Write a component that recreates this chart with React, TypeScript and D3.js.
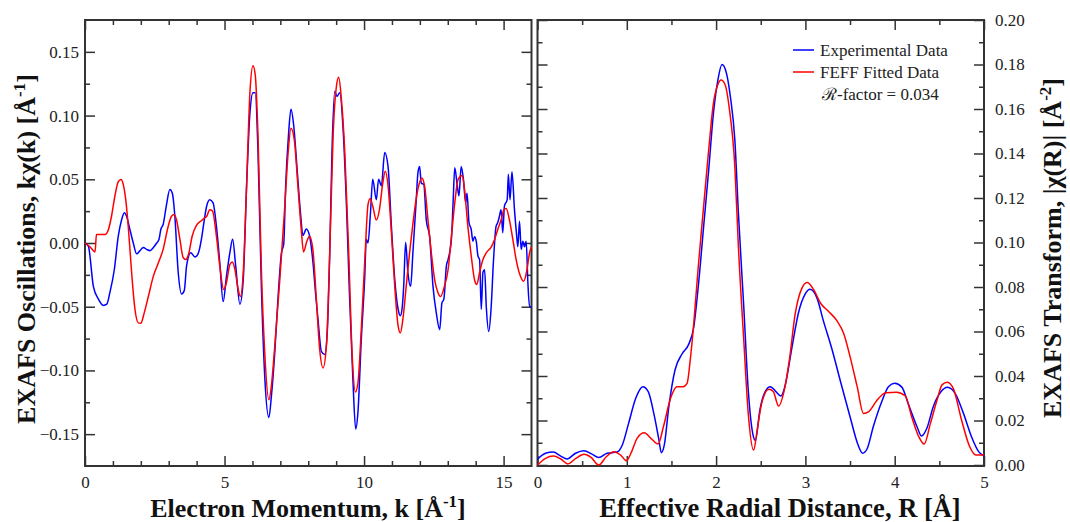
import React, { useRef, useEffect } from 'react';
import * as d3 from 'd3';

// k-space EXAFS, [k (1/A), k*chi(k)]
const kExp = [[0,0],[0.12,-0.0025],[0.3,-0.034],[0.48,-0.044],[0.66,-0.049],[0.78,-0.048],[0.89,-0.039],[1.05,-0.021],[1.19,0.005],[1.31,0.018],[1.41,0.0237],[1.49,0.021],[1.61,0.0106],[1.73,0],[1.85,-0.0085],[1.97,-0.006],[2.09,-0.0035],[2.21,-0.005],[2.33,-0.006],[2.45,-0.0035],[2.57,0],[2.65,0.0027],[2.72,0.011],[2.8,0.0145],[2.92,0.03],[3.04,0.042],[3.13,0.039],[3.22,0.021],[3.34,-0.023],[3.46,-0.04],[3.56,-0.037],[3.64,-0.018],[3.79,-0.0077],[3.94,-0.011],[4.06,-0.008],[4.18,0.004],[4.26,0.016],[4.36,0.029],[4.47,0.034],[4.59,0.0315],[4.71,0.013],[4.83,-0.0155],[4.95,-0.046],[5.07,-0.026],[5.19,-0.0077],[5.29,0.003],[5.4,-0.018],[5.55,-0.048],[5.67,-0.029],[5.79,0.0446],[5.91,0.102],[6.02,0.118],[6.1,0.118],[6.2,0.071],[6.32,-0.034],[6.44,-0.1045],[6.59,-0.137],[6.68,-0.12],[6.8,-0.086],[6.92,-0.042],[7.04,-0.0077],[7.12,-0.001],[7.19,0.0446],[7.29,0.084],[7.38,0.105],[7.48,0.092],[7.6,0.058],[7.72,0.024],[7.81,0.006],[7.93,0.011],[8.05,0.0053],[8.17,-0.0155],[8.26,-0.039],[8.35,-0.06],[8.47,-0.085],[8.59,-0.0875],[8.68,-0.0705],[8.77,-0.0077],[8.85,0.071],[8.95,0.119],[9.03,0.115],[9.13,0.118],[9.25,0.089],[9.37,0.029],[9.48,-0.042],[9.6,-0.107],[9.7,-0.146],[9.78,-0.133],[9.9,-0.076],[10.02,-0.0287],[10.08,0.003],[10.14,0],[10.23,0.0237],[10.31,0.05],[10.44,0.034],[10.52,0.05],[10.62,0.045],[10.74,0.071],[10.86,0.06],[10.98,0.013],[11.1,-0.0287],[11.22,-0.052],[11.3,-0.057],[11.36,-0.052],[11.42,-0.034],[11.49,0.0006],[11.57,-0.023],[11.67,-0.034],[11.75,-0.0077],[11.87,0.034],[11.93,0.055],[11.99,0.06],[12.05,0.047],[12.14,0.046],[12.23,0.018],[12.35,0.005],[12.47,-0.034],[12.59,-0.055],[12.71,-0.068],[12.79,-0.047],[12.86,-0.044],[12.95,-0.018],[13.01,-0.013],[13.13,0.003],[13.19,0.0315],[13.25,0.059],[13.34,0.045],[13.4,0.037],[13.48,0.06],[13.56,0.05],[13.64,0.0315],[13.69,0.039],[13.76,0.016],[13.84,0.0106],[13.9,0.0014],[13.96,0.005],[14.02,0.0014],[14.08,-0.01],[14.14,-0.013],[14.2,-0.052],[14.26,-0.023],[14.32,-0.021],[14.38,-0.05],[14.47,-0.0695],[14.55,-0.052],[14.64,-0.013],[14.73,0.013],[14.79,0.016],[14.85,0.021],[14.91,0.026],[14.97,0.008],[15.03,0.029],[15.13,0.034],[15.17,0.054],[15.23,0.034],[15.3,0.056],[15.39,0.026],[15.46,0.008],[15.51,-0.003],[15.57,0.017],[15.63,-0.005],[15.69,0.0014],[15.75,-0.003],[15.81,0.0014],[15.87,-0.031],[15.93,-0.05],[16,-0.05]];

const kFit = [[0,0],[0.18,-0.003],[0.36,-0.007],[0.41,0.0067],[0.54,0.0067],[0.72,0.0067],[0.84,0.0106],[0.95,0.021],[1.07,0.0367],[1.19,0.048],[1.29,0.0498],[1.37,0.046],[1.46,0.034],[1.55,0.013],[1.67,-0.023],[1.79,-0.052],[1.91,-0.0627],[2.0,-0.063],[2.12,-0.055],[2.27,-0.042],[2.45,-0.026],[2.63,-0.0155],[2.8,-0.005],[2.98,0.013],[3.1,0.021],[3.2,0.0224],[3.28,0.018],[3.4,0.003],[3.52,-0.0116],[3.61,-0.013],[3.72,-0.008],[3.84,0.0053],[4.0,0.014],[4.18,0.0177],[4.29,0.0198],[4.36,0.021],[4.47,0.026],[4.57,0.025],[4.71,0.0053],[4.83,-0.018],[4.97,-0.0365],[5.07,-0.031],[5.19,-0.017],[5.28,-0.015],[5.37,-0.0206],[5.49,-0.0365],[5.57,-0.042],[5.67,-0.0234],[5.79,0.0446],[5.91,0.118],[6.02,0.139],[6.1,0.132],[6.2,0.084],[6.32,-0.021],[6.44,-0.086],[6.59,-0.123],[6.68,-0.112],[6.8,-0.081],[6.98,-0.029],[7.16,0.029],[7.28,0.071],[7.38,0.09],[7.5,0.081],[7.63,0.0446],[7.75,0.0106],[7.83,-0.007],[7.95,0.0014],[8.05,0.0053],[8.17,-0.006],[8.29,-0.044],[8.41,-0.0836],[8.53,-0.098],[8.65,-0.081],[8.77,-0.0077],[8.89,0.084],[9.01,0.123],[9.09,0.13],[9.18,0.115],[9.31,0.071],[9.45,-0.0077],[9.57,-0.086],[9.69,-0.117],[9.78,-0.11],[9.9,-0.068],[10.04,-0.0077],[10.14,0.03],[10.22,0.035],[10.31,0.029],[10.44,0.018],[10.55,0.026],[10.67,0.047],[10.76,0.0564],[10.86,0.045],[10.98,0.008],[11.1,-0.034],[11.22,-0.065],[11.3,-0.0705],[11.39,-0.06],[11.51,-0.034],[11.63,-0.008],[11.75,0.015],[11.87,0.035],[11.97,0.046],[12.07,0.051],[12.17,0.0446],[12.29,0.018],[12.41,-0.0077],[12.53,-0.029],[12.65,-0.039],[12.74,-0.042],[12.88,-0.034],[13.01,-0.021],[13.13,0.005],[13.25,0.0315],[13.37,0.05],[13.52,0.053],[13.6,0.042],[13.72,0.013],[13.84,-0.01],[13.96,-0.029],[14.04,-0.0326],[14.14,-0.023],[14.26,-0.013],[14.38,-0.0077],[14.56,-0.003],[14.68,0.003],[14.79,0.0106],[14.91,0.018],[15.01,0.026],[15.09,0.027],[15.21,0.018],[15.33,0.003],[15.45,-0.013],[15.57,-0.024],[15.72,-0.03],[15.84,-0.0206],[15.93,-0.0077],[16,-0.003]];

// R-space Fourier transform, [R (A), |chi(R)|]
const rExp = [[0,0.0026],[0.09,0.0053],[0.175,0.0058],[0.26,0.004],[0.33,0.0027],[0.426,0.0053],[0.52,0.0064],[0.61,0.0049],[0.686,0.0034],[0.78,0.0053],[0.89,0.0058],[0.95,0.009],[1.02,0.0187],[1.1,0.03],[1.18,0.0352],[1.24,0.033],[1.31,0.0217],[1.36,0.0112],[1.387,0.0055],[1.42,0.009],[1.47,0.026],[1.54,0.0427],[1.62,0.05],[1.69,0.054],[1.75,0.062],[1.8,0.08],[1.86,0.107],[1.92,0.134],[1.97,0.158],[2.02,0.173],[2.066,0.18],[2.11,0.177],[2.16,0.1655],[2.21,0.146],[2.25,0.113],[2.31,0.071],[2.36,0.0337],[2.41,0.0142],[2.44,0.011],[2.49,0.0247],[2.55,0.033],[2.606,0.0352],[2.67,0.033],[2.726,0.031],[2.77,0.0352],[2.85,0.053],[2.92,0.068],[3.0,0.077],[3.05,0.079],[3.13,0.075],[3.2,0.065],[3.3,0.0517],[3.39,0.038],[3.5,0.0217],[3.59,0.009],[3.64,0.0053],[3.69,0.0072],[3.76,0.0172],[3.86,0.029],[3.93,0.0352],[4.0,0.0367],[4.08,0.035],[4.15,0.0277],[4.25,0.0172],[4.3,0.013],[4.36,0.0165],[4.43,0.026],[4.52,0.033],[4.59,0.0349],[4.68,0.032],[4.77,0.0232],[4.86,0.0127],[4.94,0.006],[5.0,0.004]];

const rFit = [[0,0],[0.09,0.003],[0.18,0.004],[0.26,0.0027],[0.34,0.0005],[0.43,0.003],[0.52,0.0048],[0.6,0.0034],[0.686,0],[0.77,0.0037],[0.854,0.006],[0.93,0.0045],[0.996,0.0019],[1.06,0.0066],[1.115,0.012],[1.197,0.0145],[1.27,0.012],[1.35,0.0094],[1.41,0.0172],[1.49,0.03],[1.56,0.0352],[1.63,0.0352],[1.675,0.0367],[1.71,0.047],[1.75,0.0637],[1.8,0.089],[1.86,0.116],[1.92,0.143],[1.97,0.1625],[2.02,0.171],[2.055,0.173],[2.1,0.171],[2.15,0.1596],[2.21,0.134],[2.25,0.098],[2.31,0.056],[2.36,0.0232],[2.42,0.0067],[2.46,0.0157],[2.51,0.0277],[2.59,0.034],[2.64,0.033],[2.7,0.0265],[2.76,0.033],[2.82,0.047],[2.886,0.068],[2.96,0.0794],[3.02,0.082],[3.09,0.079],[3.17,0.0727],[3.26,0.069],[3.35,0.065],[3.43,0.059],[3.5,0.0487],[3.58,0.0352],[3.65,0.0232],[3.71,0.024],[3.8,0.029],[3.9,0.0325],[4.02,0.0327],[4.12,0.031],[4.19,0.0217],[4.27,0.0127],[4.33,0.0094],[4.4,0.0187],[4.48,0.03],[4.53,0.036],[4.59,0.0372],[4.66,0.034],[4.75,0.02],[4.84,0.0082],[4.91,0.0045],[5.0,0.0045]];

const kTicks = [0, 5, 10, 15];
const chiTicks = [-0.15, -0.1, -0.05, 0, 0.05, 0.1, 0.15];
const rTicks = [0, 1, 2, 3, 4, 5];
const ftTicks = [0, 0.02, 0.04, 0.06, 0.08, 0.1, 0.12, 0.14, 0.16, 0.18, 0.2];
const legendLabels = ['Experimental Data', 'FEFF Fitted Data'];
const rFactorText = '\u211B-factor = 0.034';

const BLUE = '#0000ff';
const RED = '#ff0000';
const AXIS = '#333333';
const FONT = "'Liberation Serif', 'Times New Roman', serif";

export default function App() {
  const ref = useRef<SVGSVGElement>(null);

  useEffect(() => {
    const svg = d3.select(ref.current);
    svg.selectAll('*').remove();
    const top = 20, bottom = 466;

    const styleAxis = (a: any) => {
      a.select('.domain').remove();
      a.selectAll('line').attr('stroke', AXIS).attr('stroke-width', 1.5);
      a.selectAll('text').attr('font-family', FONT).attr('font-size', 17).attr('fill', '#222');
    };

    const panel = (opts: any) => {
      const { x, y, xMajor, xMinor, yMajor, yMinor, xFmt, yFmt, yLabelSide, series } = opts;
      const [x0, x1] = x.range();
      const g = svg.append('g');

      // ticks on all four sides, pointing inward
      const add = (axis: any, tx: number, ty: number) => {
        const a = g.append('g').attr('transform', `translate(${tx},${ty})`).call(axis);
        styleAxis(a);
      };
      add(d3.axisBottom(x).tickValues(xMajor).tickSize(-10).tickPadding(10).tickFormat(xFmt), 0, bottom);
      add(d3.axisBottom(x).tickValues(xMinor).tickSize(-5).tickFormat(() => ''), 0, bottom);
      add(d3.axisTop(x).tickValues(xMajor).tickSize(-10).tickFormat(() => ''), 0, top);
      add(d3.axisTop(x).tickValues(xMinor).tickSize(-5).tickFormat(() => ''), 0, top);
      add(d3.axisLeft(y).tickValues(yMajor).tickSize(-10).tickPadding(6)
        .tickFormat(yLabelSide === 'left' ? yFmt : () => ''), x0, 0);
      add(d3.axisLeft(y).tickValues(yMinor).tickSize(-5).tickFormat(() => ''), x0, 0);
      add(d3.axisRight(y).tickValues(yMajor).tickSize(-10).tickPadding(11)
        .tickFormat(yLabelSide === 'right' ? yFmt : () => ''), x1, 0);
      add(d3.axisRight(y).tickValues(yMinor).tickSize(-5).tickFormat(() => ''), x1, 0);

      g.append('rect')
        .attr('x', x0).attr('y', top)
        .attr('width', x1 - x0).attr('height', bottom - top)
        .attr('fill', 'none').attr('stroke', AXIS).attr('stroke-width', 2);

      const line = d3.line<number[]>()
        .x(d => x(d[0]))
        .y(d => y(d[1]))
        .curve(d3.curveMonotoneX);

      series.forEach((s: any) => {
        g.append('path')
          .datum(s.data)
          .attr('fill', 'none')
          .attr('stroke', s.color)
          .attr('stroke-width', 1.5)
          .attr('stroke-linejoin', 'round')
          .attr('d', line);
      });
    };

    // left panel: k-space
    const xk = d3.scaleLinear().domain([0, 16]).range([85, 531.5]);
    const yk = d3.scaleLinear().domain([-0.175, 0.175]).range([bottom, top]);
    panel({
      x: xk, y: yk,
      xMajor: kTicks,
      xMinor: d3.range(1, 16).filter(v => v % 5 !== 0),
      yMajor: chiTicks,
      yMinor: d3.range(-0.125, 0.13, 0.05),
      xFmt: d3.format('d'),
      yFmt: d3.format('.2f'),
      yLabelSide: 'left',
      series: [{ data: kExp, color: BLUE }, { data: kFit, color: RED }],
    });

    // right panel: R-space
    const xr = d3.scaleLinear().domain([0, 5]).range([537.5, 984]);
    const yr = d3.scaleLinear().domain([0, 0.2]).range([bottom - 1, top]);
    panel({
      x: xr, y: yr,
      xMajor: rTicks,
      xMinor: d3.range(0.5, 5, 1),
      yMajor: ftTicks,
      yMinor: d3.range(0.01, 0.2, 0.02),
      xFmt: d3.format('d'),
      yFmt: d3.format('.2f'),
      yLabelSide: 'right',
      series: [{ data: rExp, color: BLUE }, { data: rFit, color: RED }],
    });

    // axis titles
    const title = (tx: number, ty: number, rot: boolean, main: string, sup: string | null, size = 26) => {
      const t = svg.append('text')
        .attr('transform', `translate(${tx},${ty})` + (rot ? ' rotate(-90)' : ''))
        .attr('text-anchor', 'middle')
        .attr('font-family', FONT)
        .attr('font-weight', 'bold')
        .attr('font-size', size)
        .attr('fill', '#111');
      t.append('tspan').text(main);
      if (sup) {
        t.append('tspan').attr('font-size', 17).attr('dy', -10).text(sup);
        t.append('tspan').attr('dy', 10).text(']');
      } else {
        t.append('tspan').text(']');
      }
    };
    title(308, 517, false, 'Electron Momentum, k [\u00C5', '-1');
    title(780, 517, false, 'Effective Radial Distance, R [\u00C5', null, 26.5);
    title(35, 249, true, 'EXAFS Oscillations, k\u03C7(k) [\u00C5', '-1');
    title(1061, 248, true, 'EXAFS Transform, |\u03C7(R)| [\u00C5', '-2');

    // legend
    const lg = svg.append('g');
    [BLUE, RED].forEach((c, i) => {
      lg.append('line')
        .attr('x1', 793).attr('x2', 814)
        .attr('y1', 50 + i * 22).attr('y2', 50 + i * 22)
        .attr('stroke', c).attr('stroke-width', 1.5);
      lg.append('text')
        .attr('x', 820).attr('y', 55.5 + i * 22)
        .attr('font-family', FONT).attr('font-size', 17).attr('fill', '#222')
        .text(legendLabels[i]);
    });
    lg.append('text')
      .attr('x', 822).attr('y', 100)
      .attr('font-family', FONT).attr('font-size', 17).attr('fill', '#222')
      .text(rFactorText);
  }, []);

  return (
    <svg
      ref={ref}
      width={1070}
      height={522}
      style={{ position: 'absolute', left: 0, top: 0, background: '#fff' }}
    />
  );
}
